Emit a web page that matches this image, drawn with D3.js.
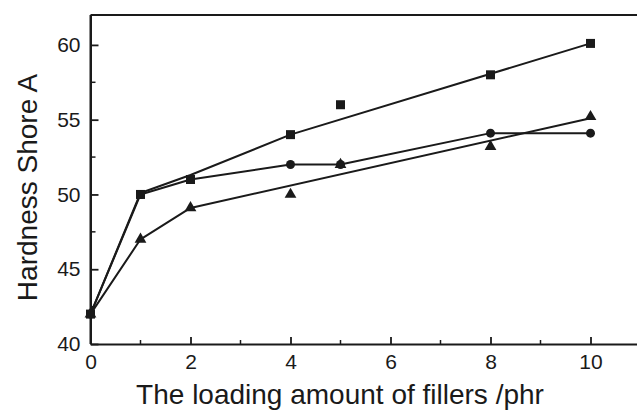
<!DOCTYPE html>
<html>
<head>
<meta charset="utf-8">
<script src="https://cdn.jsdelivr.net/npm/d3@7"></script>
<style>
  body { margin: 0; background: #fff; }
  svg { display: block; }
  text { font-family: "Liberation Sans", Arial, sans-serif; fill: #1a1a1a; }
</style>
</head>
<body>
<svg id="chart" width="637" height="413"></svg>
<script>
// Filler loading (phr) and Shore A hardness for the three fillers
const loading = [0, 1, 2, 4, 5, 8, 10];
const hardSquare = [42, 50, 51, 54, 56, 58, 60.1];
const hardCircle = [42, 50, 51, 52, 52, 54.1, 54.1];
const hardTriangle = [42, 47, 49.1, 50, 52, 53.2, 55.2];

// Trend lines drawn through each series
const trendSquareX = [0, 1, 2, 4, 10];
const trendSquareY = [42, 50.1, 51.3, 54, 60.1];
const trendCircleX = [0, 1, 2, 4, 5, 8, 10];
const trendCircleY = [42, 50, 51, 52, 52, 54.1, 54.1];
const trendTriangleX = [0, 1, 2, 10];
const trendTriangleY = [42, 47, 49.1, 55.1];

const xTicks = [0, 2, 4, 6, 8, 10];
const xMinor = [1, 3, 5, 7, 9];
const yTicks = [40, 45, 50, 55, 60];
const yMinor = [42.5, 47.5, 52.5, 57.5];

const svg = d3.select("#chart");
const x = d3.scaleLinear().domain([0, 11]).range([90.5, 640.5]);
const y = d3.scaleLinear().domain([40, 62]).range([344, 15]);

const ink = "#1a1a1a";

// Frame: top edge
svg.append("line")
  .attr("x1", x(0)).attr("x2", 637)
  .attr("y1", y(62)).attr("y2", y(62))
  .attr("stroke", ink).attr("stroke-width", 2);

// Bottom axis with inward ticks
const xAxis = svg.append("g").attr("transform", `translate(0,${y(40)})`)
  .call(d3.axisBottom(x).tickValues(xTicks).tickSize(-7).tickPadding(10).tickSizeOuter(0));
xAxis.select(".domain").attr("stroke", ink).attr("stroke-width", 2);
xAxis.selectAll(".tick line").attr("stroke", ink).attr("stroke-width", 1.8);
xAxis.selectAll(".tick text").attr("font-size", 21).attr("fill", ink);
svg.append("g").attr("transform", `translate(0,${y(40)})`)
  .selectAll("line").data(xMinor).join("line")
  .attr("x1", d => x(d)).attr("x2", d => x(d))
  .attr("y1", 0).attr("y2", -4)
  .attr("stroke", ink).attr("stroke-width", 1.5);

// Left axis with inward ticks
const yAxis = svg.append("g").attr("transform", `translate(${x(0)},0)`)
  .call(d3.axisLeft(y).tickValues(yTicks).tickSize(-8).tickPadding(10).tickSizeOuter(0));
yAxis.select(".domain").attr("stroke", ink).attr("stroke-width", 2);
yAxis.selectAll(".tick line").attr("stroke", ink).attr("stroke-width", 1.8);
yAxis.selectAll(".tick text").attr("font-size", 21).attr("fill", ink);
svg.append("g").attr("transform", `translate(${x(0)},0)`)
  .selectAll("line").data(yMinor).join("line")
  .attr("x1", 0).attr("x2", 5)
  .attr("y1", d => y(d)).attr("y2", d => y(d))
  .attr("stroke", ink).attr("stroke-width", 1.5);
// the left domain runs up to the top edge
svg.append("line")
  .attr("x1", x(0)).attr("x2", x(0))
  .attr("y1", y(40)).attr("y2", y(62))
  .attr("stroke", ink).attr("stroke-width", 2);

// Axis titles
svg.append("text")
  .attr("x", 340).attr("y", 404)
  .attr("text-anchor", "middle")
  .attr("font-size", 28)
  .text("The loading amount of fillers /phr");
svg.append("text")
  .attr("transform", `translate(37,${(y(40) + y(62)) / 2 + 8}) rotate(-90)`)
  .attr("text-anchor", "middle")
  .attr("font-size", 28)
  .text("Hardness Shore A");

// Trend lines
const line = d3.line().x(d => x(d[0])).y(d => y(d[1]));
const trends = [
  d3.zip(trendSquareX, trendSquareY),
  d3.zip(trendCircleX, trendCircleY),
  d3.zip(trendTriangleX, trendTriangleY)
];
svg.append("g").selectAll("path").data(trends).join("path")
  .attr("d", line)
  .attr("fill", "none")
  .attr("stroke", ink)
  .attr("stroke-width", 2)
  .attr("stroke-linejoin", "round");

// Markers
const pts = (ys) => d3.zip(loading, ys);
svg.append("g").selectAll("circle").data(pts(hardCircle)).join("circle")
  .attr("cx", d => x(d[0])).attr("cy", d => y(d[1])).attr("r", 4.5)
  .attr("fill", ink);
svg.append("g").selectAll("rect").data(pts(hardSquare)).join("rect")
  .attr("x", d => x(d[0]) - 4.5).attr("y", d => y(d[1]) - 4.5)
  .attr("width", 9).attr("height", 9)
  .attr("fill", ink);
const tri = d3.symbol().type(d3.symbolTriangle).size(60);
svg.append("g").selectAll("path").data(pts(hardTriangle)).join("path")
  .attr("transform", d => `translate(${x(d[0])},${y(d[1])})`)
  .attr("d", tri)
  .attr("fill", ink);
</script>
</body>
</html>
